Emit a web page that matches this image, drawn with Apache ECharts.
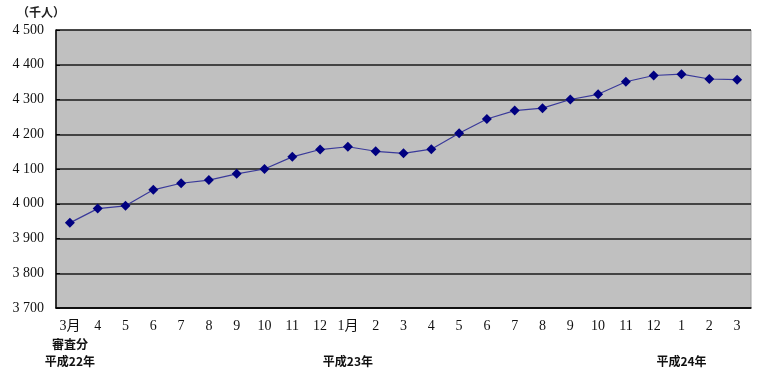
<!DOCTYPE html>
<html><head><meta charset="utf-8">
<script src="https://cdn.jsdelivr.net/npm/echarts@6/dist/echarts.min.js"></script>
<style>html,body{margin:0;padding:0;background:#fff}#c{width:759px;height:372px}</style>
</head><body><div id="c"></div>
<script>
const categories = ['3月','4','5','6','7','8','9','10','11','12','1月','2','3','4','5','6','7','8','9','10','11','12','1','2','3'];
const values = [3945,3986,3994,4040,4059,4068,4086,4100,4135,4156,4164,4151,4145,4157,4203,4244,4268,4275,4300,4315,4351,4369,4373,4359,4357];
const extraLabels = {0:['審査分','平成22年'], 10:['','平成23年'], 22:['','平成24年']};
const yMin = 3700, yMax = 4500, yStep = 100;
const unitLabel = '（千人）';

const chart = echarts.init(document.getElementById('c'));
chart.setOption({
  animation: false,
  backgroundColor: '#fff',
  title: { text: unitLabel, left: 12, top: 1, textStyle: { fontSize: 12, fontWeight: 'bold', color: '#222', fontFamily: 'Noto Sans CJK JP' } },
  grid: { left: 56, right: 8, top: 30, bottom: 64, show: true, backgroundColor: '#c0c0c0', borderColor: '#a0a0a0', borderWidth: 1 },
  xAxis: {
    type: 'category', data: categories, boundaryGap: true,
    axisLine: { lineStyle: { color: '#000', width: 1.5 } },
    axisTick: { inside: true, length: 4, interval: 0, lineStyle: { color: '#000' } },
    axisLabel: {
      interval: 0, margin: 10, color: '#111', fontSize: 14, fontFamily: 'Liberation Serif, Noto Sans CJK JP', lineHeight: 17.5,
      formatter: (v, i) => {
        const e = extraLabels[i];
        if (!e) return v;
        return v + '\n{j|' + e[0] + '}\n{j|' + e[1] + '}';
      },
      rich: { j: { fontFamily: 'Noto Sans CJK JP', fontWeight: 'bold', fontSize: 12, color: '#111', lineHeight: 17.5 } }
    }
  },
  yAxis: {
    type: 'value', min: yMin, max: yMax, interval: yStep,
    axisLine: { show: true, lineStyle: { color: '#000', width: 1.5 } },
    axisTick: { show: true, inside: true, length: 4, lineStyle: { color: '#000' } },
    splitLine: { lineStyle: { color: '#1a1a1a', width: 1.5 } },
    axisLabel: { margin: 12, color: '#111', fontSize: 14, fontFamily: 'Liberation Serif',
      formatter: v => { const s = String(v); return s.slice(0, 1) + ' ' + s.slice(1); } }
  },
  series: [{
    type: 'line', data: values,
    symbol: 'diamond', symbolSize: 10,
    itemStyle: { color: '#000080' },
    lineStyle: { color: '#3a3a9a', width: 1.2 }
  }]
});
</script></body></html>
